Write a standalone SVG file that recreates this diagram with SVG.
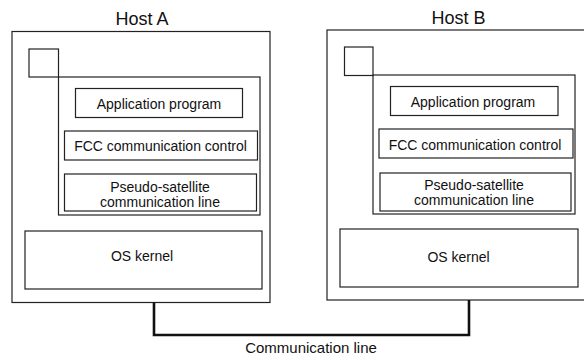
<svg xmlns="http://www.w3.org/2000/svg" width="584" height="360" viewBox="0 0 584 360">
<style>
.b{fill:none;stroke:#222;stroke-width:1.2}
.t{font-family:"Liberation Sans",Arial,sans-serif;font-size:14px;fill:#111;text-anchor:middle}
.h{font-size:18px}
.c{fill:none;stroke:#111;stroke-width:2.6}
</style>
<rect width="584" height="360" fill="#fff"/>
<g id="hostA">
<text class="t h" x="142" y="25">Host A</text>
<rect class="b" x="12" y="31.5" width="258" height="271"/>
<rect class="b" x="29" y="49" width="29.5" height="28"/>
<rect class="b" x="58.5" y="77" width="201.5" height="138"/>
<g id="appA"><rect class="b" x="75.5" y="88.5" width="167" height="29"/><text class="t" x="159" y="109">Application program</text></g>
<g id="fccA"><rect class="b" x="64.5" y="131" width="193" height="29"/><text class="t" x="160.5" y="151">FCC communication control</text></g>
<g id="pseudoA"><rect class="b" x="64.5" y="174" width="192" height="37"/><text class="t" x="160" y="191.5">Pseudo-satellite</text><text class="t" x="160" y="206.5">communication line</text></g>
<g id="osA"><rect class="b" x="25" y="231" width="237" height="58"/><text class="t" x="142" y="261">OS kernel</text></g>
</g>
<g id="hostB">
<text class="t h" x="458.5" y="24">Host B</text>
<rect class="b" x="327" y="30" width="262" height="270"/>
<rect class="b" x="344.5" y="47" width="28.5" height="28.5"/>
<rect class="b" x="373" y="75" width="202" height="139"/>
<g id="appB"><rect class="b" x="390.5" y="86.5" width="167.5" height="29"/><text class="t" x="473" y="107">Application program</text></g>
<g id="fccB"><rect class="b" x="379" y="129" width="194" height="29"/><text class="t" x="475" y="149.5">FCC communication control</text></g>
<g id="pseudoB"><rect class="b" x="380" y="173" width="191" height="38"/><text class="t" x="474" y="190">Pseudo-satellite</text><text class="t" x="474" y="205">communication line</text></g>
<g id="osB"><rect class="b" x="340" y="229" width="238" height="58"/><text class="t" x="458.5" y="262">OS kernel</text></g>
</g>
<g id="connectors">
<path class="c" d="M154,302.5 V335 H469 V300"/>
<text class="t" x="311" y="353" style="font-size:15px">Communication line</text>
</g>
</svg>
